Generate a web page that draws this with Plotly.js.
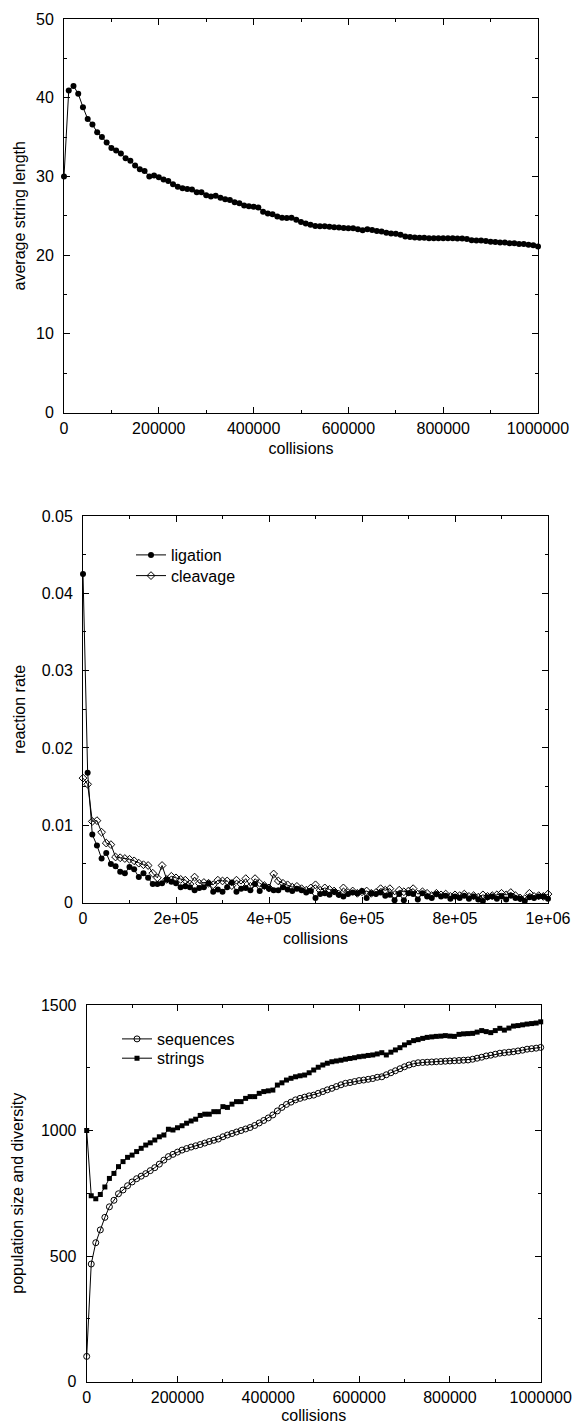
<!DOCTYPE html>
<html>
<head>
<meta charset="utf-8">
<script src="https://cdn.plot.ly/plotly-3.0.1.min.js"></script>
<style>html,body{margin:0;padding:0;background:#fff;}#chart{width:575px;height:1424px;}</style>
</head>
<body>
<div id="chart"></div>
<script>
// ---------- data ----------
const collisions = [0,10000,20000,30000,40000,50000,60000,70000,80000,90000,
100000,110000,120000,130000,140000,150000,160000,170000,180000,190000,
200000,210000,220000,230000,240000,250000,260000,270000,280000,290000,
300000,310000,320000,330000,340000,350000,360000,370000,380000,390000,
400000,410000,420000,430000,440000,450000,460000,470000,480000,490000,
500000,510000,520000,530000,540000,550000,560000,570000,580000,590000,
600000,610000,620000,630000,640000,650000,660000,670000,680000,690000,
700000,710000,720000,730000,740000,750000,760000,770000,780000,790000,
800000,810000,820000,830000,840000,850000,860000,870000,880000,890000,
900000,910000,920000,930000,940000,950000,960000,970000,980000,990000,
1000000];

const avgStringLength = [30.0,40.9,41.5,40.5,38.8,37.3,36.6,35.6,35.0,34.3,
33.6,33.3,32.9,32.3,32.0,31.4,30.9,30.7,30.0,30.1,
29.9,29.6,29.4,29.0,28.7,28.5,28.4,28.35,28.0,28.0,
27.6,27.45,27.55,27.3,27.1,27.0,26.7,26.6,26.3,26.2,
26.15,26.05,25.5,25.3,25.2,24.9,24.75,24.7,24.75,24.5,
24.2,24.0,23.85,23.7,23.65,23.65,23.6,23.55,23.5,23.45,
23.4,23.4,23.3,23.15,23.3,23.2,23.05,23.0,22.85,22.75,
22.7,22.6,22.35,22.3,22.25,22.2,22.2,22.15,22.15,22.15,
22.15,22.15,22.15,22.1,22.1,22.05,21.9,21.85,21.85,21.8,
21.7,21.65,21.6,21.6,21.5,21.5,21.4,21.4,21.3,21.25,
21.1];

const ligation = [0.0425,0.0168,0.0088,0.0074,0.0057,0.0064,0.0050,0.0047,0.0040,0.0038,
0.0046,0.0043,0.0033,0.0038,0.0032,0.0024,0.0024,0.0025,0.0030,0.0027,
0.0025,0.0020,0.0021,0.0020,0.0016,0.0019,0.0020,0.0025,0.0014,0.0017,
0.0014,0.0020,0.0026,0.0014,0.0018,0.0019,0.0016,0.0024,0.0015,0.0021,
0.0018,0.0016,0.0016,0.0020,0.0017,0.0015,0.0018,0.0016,0.0013,0.0015,
0.0006,0.0011,0.0012,0.0010,0.0014,0.0010,0.0008,0.0011,0.0013,0.0012,
0.0015,0.0006,0.0012,0.0011,0.0013,0.0009,0.0010,0.0003,0.0011,0.0003,
0.0012,0.0011,0.0004,0.0012,0.0008,0.0006,0.0011,0.0008,0.0009,0.0005,
0.0008,0.0006,0.0009,0.0005,0.0008,0.0004,0.0002,0.0007,0.0008,0.0005,
0.0008,0.0004,0.0009,0.0006,0.0005,0.0002,0.0007,0.0006,0.0008,0.0008,
0.0005];

const cleavage = [0.0161,0.0153,0.0105,0.0106,0.0091,0.0077,0.0075,0.0059,0.0058,0.0057,
0.0056,0.0054,0.0051,0.0049,0.0048,0.0038,0.0032,0.0048,0.0030,0.0034,
0.0032,0.0030,0.0029,0.0024,0.0033,0.0025,0.0026,0.0025,0.0023,0.0029,
0.0028,0.0028,0.0022,0.0029,0.0024,0.0031,0.0021,0.0031,0.0025,0.0022,
0.0019,0.0037,0.0028,0.0025,0.0023,0.0020,0.0021,0.0018,0.0016,0.0019,
0.0023,0.0016,0.0019,0.0017,0.0015,0.0011,0.0019,0.0013,0.0015,0.0012,
0.0014,0.0015,0.0012,0.0013,0.0018,0.0016,0.0018,0.0010,0.0016,0.0014,
0.0015,0.0018,0.0011,0.0014,0.0012,0.0009,0.0012,0.0010,0.0011,0.0008,
0.0010,0.0009,0.0011,0.0008,0.0009,0.0007,0.0010,0.0008,0.0009,0.0010,
0.0012,0.0010,0.0013,0.0009,0.0006,0.0005,0.0012,0.0008,0.0009,0.0008,
0.0011];

const sequences = [100,468,553,604,654,696,722,748,763,780,
795,808,818,828,840,852,866,882,896,905,
914,922,928,934,939,944,950,956,961,966,
975,982,988,994,1000,1006,1012,1020,1030,1040,
1050,1062,1078,1092,1104,1113,1122,1128,1133,1138,
1141,1148,1155,1162,1168,1175,1182,1188,1191,1195,
1199,1201,1204,1207,1212,1214,1222,1230,1238,1246,
1254,1261,1266,1270,1271,1272,1273,1274,1275,1276,
1277,1278,1279,1280,1281,1284,1288,1292,1297,1300,
1304,1308,1310,1312,1314,1317,1320,1324,1326,1328,
1331];

const strings = [1000,740,728,745,775,809,829,856,876,893,
902,916,929,942,951,962,975,982,1005,1002,
1011,1019,1029,1038,1045,1060,1065,1065,1075,1075,
1095,1092,1105,1115,1115,1128,1135,1135,1148,1155,
1158,1161,1181,1190,1201,1208,1214,1218,1221,1230,
1241,1252,1261,1268,1274,1277,1280,1284,1287,1290,
1294,1296,1299,1301,1305,1310,1301,1312,1321,1330,
1341,1350,1358,1362,1367,1371,1373,1375,1376,1378,
1376,1375,1383,1385,1386,1387,1392,1398,1394,1390,
1398,1407,1400,1408,1416,1418,1421,1424,1426,1428,
1433];

// tick labels
const midXTickVals = [0,200000,400000,600000,800000,1000000];
const midXTickText = ["0","2e+05","4e+05","6e+05","8e+05","1e+06"];

// ---------- styling ----------
const FONT = {family: "Liberation Sans, Arial, Helvetica, sans-serif", size: 16, color: "#000"};
const LINE = {color: "#000", width: 1};

function axisBase(extra) {
  return Object.assign({
    showline: true, linecolor: "#000", linewidth: 1, mirror: "ticks",
    ticks: "inside", ticklen: 6, tickwidth: 1, tickcolor: "#000",
    showgrid: false, zeroline: false, tickfont: FONT, fixedrange: true
  }, extra);
}
function minorTicks(d) {
  return {tickmode: "linear", tick0: 0, dtick: d, ticklen: 3, ticks: "inside", tickcolor: "#000"};
}

const traces = [
  {x: collisions, y: avgStringLength, xaxis: "x", yaxis: "y", mode: "lines+markers",
   line: LINE, marker: {symbol: "circle", size: 6, color: "#000"}, showlegend: false, cliponaxis: false,
   name: "average string length"},
  {x: collisions, y: ligation, xaxis: "x2", yaxis: "y2", mode: "lines+markers", legend: "legend2",
   line: LINE, marker: {symbol: "circle", size: 6, color: "#000"}, cliponaxis: false, name: "ligation"},
  {x: collisions, y: cleavage, xaxis: "x2", yaxis: "y2", mode: "lines+markers", legend: "legend3",
   line: LINE, marker: {symbol: "diamond-open", size: 6, color: "#000", line: {width: 1, color: "#000"}},
   cliponaxis: false, name: "cleavage"},
  {x: collisions, y: sequences, xaxis: "x3", yaxis: "y3", mode: "lines+markers", legend: "legend4",
   line: LINE, marker: {symbol: "circle-open", size: 6, color: "#000", line: {width: 1, color: "#000"}},
   cliponaxis: false, name: "sequences"},
  {x: collisions, y: strings, xaxis: "x3", yaxis: "y3", mode: "lines+markers", legend: "legend5",
   line: LINE, marker: {symbol: "square", size: 5, color: "#000"}, cliponaxis: false, name: "strings"}
];

const H = 1424, W = 575;
const px = v => v / W;
const py = v => 1 - v / H;

function legendAt(x, top) {
  return {x: px(x), y: py(top), xanchor: "left", yanchor: "top", bgcolor: "rgba(0,0,0,0)",
    borderwidth: 0, font: FONT, itemclick: false};
}

const layout = {
  width: W, height: H, margin: {l: 0, r: 0, t: 0, b: 0},
  paper_bgcolor: "#fff", plot_bgcolor: "#fff", font: FONT,
  showlegend: true,
  xaxis: axisBase({domain: [px(64), px(538)], anchor: "y", range: [0, 1000000],
    tickmode: "linear", tick0: 0, dtick: 200000, tickformat: "d", ticklabelstandoff: 1,
    minor: minorTicks(100000),
    title: {text: "collisions", font: FONT, standoff: 7}}),
  yaxis: axisBase({domain: [py(412.5), py(19)], anchor: "x", range: [0, 50],
    tickmode: "linear", tick0: 0, dtick: 10, ticklabelstandoff: 6,
    minor: minorTicks(5),
    title: {text: "average string length", font: FONT, standoff: 6}}),
  xaxis2: axisBase({domain: [px(83), px(548)], anchor: "y2", range: [0, 1000000],
    tickmode: "array", tickvals: midXTickVals, ticktext: midXTickText, ticklabelstandoff: 1,
    minor: minorTicks(100000),
    title: {text: "collisions", font: FONT, standoff: 7}}),
  yaxis2: axisBase({domain: [py(902.6), py(516)], anchor: "x2", range: [0, 0.05],
    tickmode: "linear", tick0: 0, dtick: 0.01, ticklabelstandoff: 6,
    minor: minorTicks(0.005),
    title: {text: "reaction rate", font: FONT, standoff: 12}}),
  xaxis3: axisBase({domain: [px(86.7), px(540.7)], anchor: "y3", range: [0, 1000000],
    tickmode: "linear", tick0: 0, dtick: 200000, tickformat: "d", ticklabelstandoff: 1,
    minor: minorTicks(100000),
    title: {text: "collisions", font: FONT, standoff: 7}}),
  yaxis3: axisBase({domain: [py(1381.5), py(1005)], anchor: "x3", range: [0, 1500],
    tickmode: "linear", tick0: 0, dtick: 500, tickformat: "d", ticklabelstandoff: 6,
    minor: minorTicks(250),
    title: {text: "population size and diversity", font: FONT, standoff: 13}}),
  legend2: legendAt(131, 538),
  legend3: legendAt(131, 558.7),
  legend4: legendAt(117, 1022),
  legend5: legendAt(117, 1041.3)
};

Plotly.newPlot("chart", traces, layout, {staticPlot: true, displayModeBar: false});
</script>
</body>
</html>
